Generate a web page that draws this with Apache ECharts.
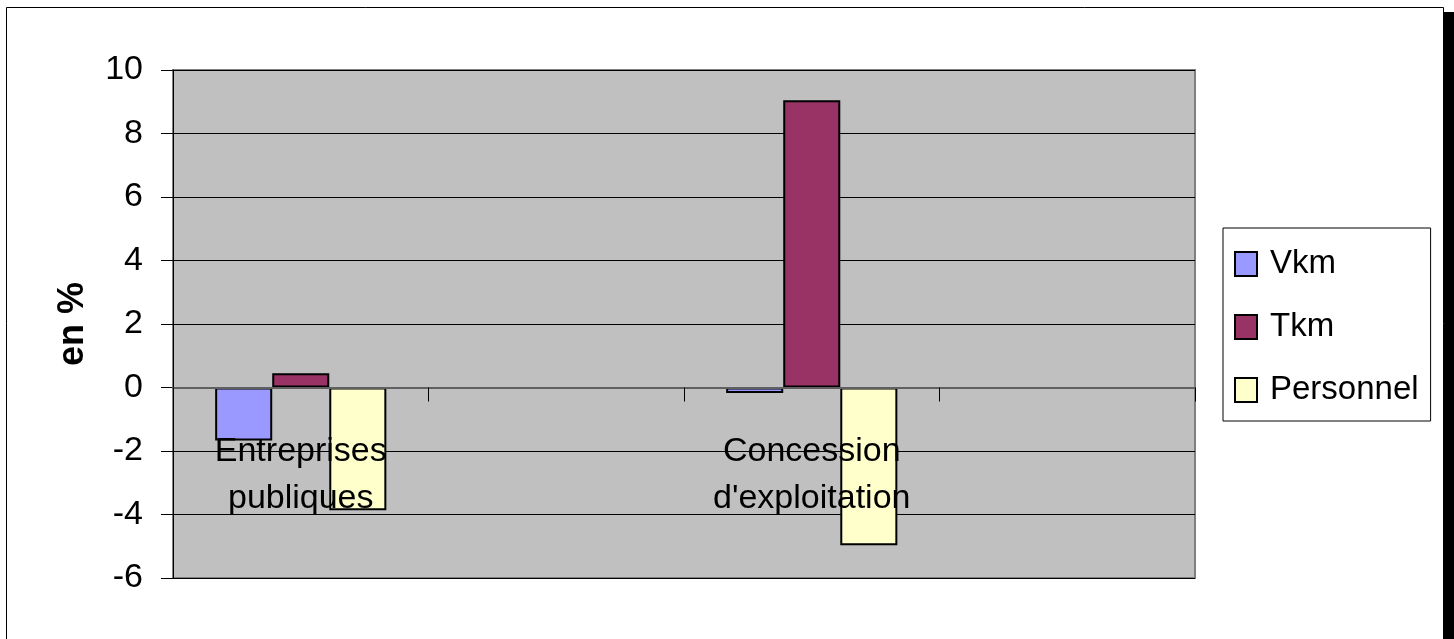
<!DOCTYPE html>
<html>
<head>
<meta charset="utf-8">
<script src="https://cdn.jsdelivr.net/npm/echarts@6/dist/echarts.min.js"></script>
<style>
  html, body { margin: 0; padding: 0; background: #fff; }
  #chart { width: 1454px; height: 639px; }
</style>
</head>
<body>
<div id="chart"></div>
<script>
// Categories along the x axis (empty slots keep the band layout)
const categories = ['Entreprises\npubliques', '', 'Concession\nd\'exploitation', ''];

// Variation in percent per series
const vkm = [-1.67, null, -0.17, null];
const tkm = [0.45, null, 9.05, null];
const personnel = [-3.87, null, -4.97, null];

const seriesNames = ['Vkm', 'Tkm', 'Personnel'];
const seriesColors = ['#9999FF', '#993366', '#FFFFCC'];
const seriesData = [vkm, tkm, personnel];

const FONT = '"Liberation Sans", Arial, sans-serif';

const chart = echarts.init(document.getElementById('chart'), null, { renderer: 'canvas' });

chart.setOption({
  animation: false,
  backgroundColor: '#ffffff',
  textStyle: { fontFamily: FONT, color: '#000' },
  graphic: [
    // drop shadow of the chart frame
    { type: 'rect', z: -10, shape: { x: 1444, y: 12, width: 12, height: 700 }, style: { fill: '#000' } },
    // chart frame
    { type: 'rect', z: -9, shape: { x: 6.5, y: 7.5, width: 1437, height: 700 }, style: { fill: '#fff', stroke: '#000', lineWidth: 1 } }
  ],
  grid: {
    left: 173, right: 259, top: 70, bottom: 61,
    containLabel: false,
    outerBoundsMode: 'none',
    show: true,
    backgroundColor: '#C0C0C0',
    borderColor: '#808080',
    borderWidth: 2
  },
  legend: {
    orient: 'vertical',
    left: 1223, top: 228,
    padding: [16, 12, 11, 11],
    backgroundColor: '#fff',
    borderColor: '#000',
    borderWidth: 1,
    itemWidth: 22, itemHeight: 24, itemGap: 23,
    icon: 'rect',
    textStyle: { fontFamily: FONT, fontSize: 33, color: '#000', lineHeight: 40, padding: [0, 0, 0, 8] },
    data: seriesNames
  },
  xAxis: {
    type: 'category',
    data: categories,
    z: 10,
    axisLine: { onZero: true, lineStyle: { color: '#606060', width: 2 } },
    axisTick: { show: true, alignWithLabel: false, length: 14, lineStyle: { color: '#000', width: 1 } },
    // labels sit just under the zero line, overlapping the negative bars
    axisLabel: { interval: 0, fontFamily: FONT, fontSize: 34, color: '#000', lineHeight: 47, margin: -150 },
    splitLine: { show: false }
  },
  yAxis: {
    type: 'value',
    min: -6, max: 10, interval: 2,
    name: 'en %',
    nameLocation: 'middle',
    nameGap: 82,
    nameRotate: 90,
    nameTextStyle: { fontFamily: FONT, fontSize: 36, fontWeight: 'bold', color: '#000' },
    axisLine: { show: true, lineStyle: { color: '#000', width: 1 } },
    axisTick: { show: true, length: 12, lineStyle: { color: '#000' } },
    axisLabel: { fontFamily: FONT, fontSize: 34, color: '#000', margin: 30 },
    splitLine: { show: true, lineStyle: { color: '#000', width: 1 } }
  },
  series: seriesNames.map((name, i) => ({
    name,
    type: 'bar',
    data: seriesData[i],
    barGap: '0%',
    barCategoryGap: '33%',
    itemStyle: { color: seriesColors[i], borderColor: '#000', borderWidth: 2 }
  }))
});
</script>
</body>
</html>
